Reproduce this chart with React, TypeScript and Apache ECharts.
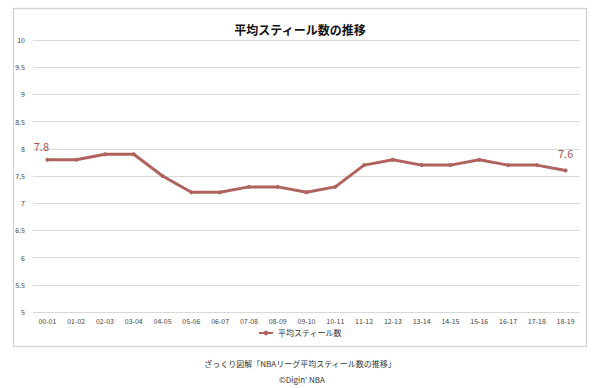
import React, { useEffect, useRef } from "react";
import * as echarts from "echarts";

const categories = ["00-01","01-02","02-03","03-04","04-05","05-06","06-07","07-08","08-09","09-10","10-11","11-12","12-13","13-14","14-15","15-16","16-17","17-18","18-19"];
const steals = [7.8,7.8,7.9,7.9,7.5,7.2,7.2,7.3,7.3,7.2,7.3,7.7,7.8,7.7,7.7,7.8,7.7,7.7,7.6];
const seriesName = "平均スティール数";
const titleText = "平均スティール数の推移";
const sourceLine1 = "ざっくり図解「NBAリーグ平均スティール数の推移」";
const sourceLine2 = "©Digin' NBA";

const FONT = "'Noto Sans CJK JP', 'Noto Sans', sans-serif";
const LINE = "#b0625d";
const LABEL = "#a45550";

export default function App() {
  const ref = useRef<HTMLDivElement>(null);
  useEffect(() => {
    if (!ref.current) return;
    const chart = echarts.init(ref.current, undefined, { renderer: "svg" });
    const last = steals.length - 1;
    chart.setOption({
      animation: false,
      backgroundColor: "#ffffff",
      textStyle: { fontFamily: FONT },
      title: {
        text: titleText,
        left: "center",
        top: 18,
        textStyle: { fontSize: 12, fontWeight: "bold", color: "#111", fontFamily: FONT },
      },
      legend: {
        top: 329,
        left: "center",
        itemWidth: 14,
        itemHeight: 6,
        itemGap: 4,
        padding: 0,
        data: [seriesName],
        textStyle: { fontSize: 8, color: "#333", fontFamily: FONT },
      },
      grid: { left: 33, right: 20, top: 40, bottom: 76 },
      xAxis: {
        type: "category",
        data: categories,
        boundaryGap: true,
        axisLine: { show: false },
        axisTick: { show: false },
        axisLabel: { fontSize: 7, color: "#444", margin: 5, interval: 0 },
      },
      yAxis: {
        type: "value",
        min: 5,
        max: 10,
        interval: 0.5,
        axisLine: { show: false },
        axisTick: { show: false },
        axisLabel: { fontSize: 7, color: "#444", margin: 8 },
        splitLine: { lineStyle: { color: "#d9d9d9", width: 1 } },
      },
      series: [
        {
          name: seriesName,
          type: "line",
          data: steals.map((v, i) => {
            if (i === 0) {
              return { value: v, label: { show: true, position: "top", offset: [-6, -1] } };
            }
            if (i === last) {
              return { value: v, label: { show: true, position: "top", offset: [0, -5] } };
            }
            return v;
          }),
          symbol: "circle",
          symbolSize: 4,
          lineStyle: { color: LINE, width: 3 },
          itemStyle: { color: LINE },
          label: { show: false, fontSize: 11, color: LABEL, fontFamily: FONT },
        },
      ],
      graphic: [
        {
          type: "rect",
          shape: { x: 13.5, y: 8.5, width: 573, height: 338 },
          style: { fill: "none", stroke: "#d6d6d6", lineWidth: 1.5 },
          silent: true,
          z: -1,
        },
        {
          type: "text",
          x: 300,
          y: 363,
          style: { text: sourceLine1, fontSize: 8, fill: "#333", align: "center", verticalAlign: "middle", fontFamily: FONT },
        },
        {
          type: "text",
          x: 302,
          y: 379,
          style: { text: sourceLine2, fontSize: 8, fill: "#333", align: "center", verticalAlign: "middle", fontFamily: FONT },
        },
      ],
    });
    return () => chart.dispose();
  }, []);
  return (
    <div
      ref={ref}
      style={{ position: "fixed", left: 0, top: 0, width: 600, height: 388, background: "#fff" }}
    />
  );
}
